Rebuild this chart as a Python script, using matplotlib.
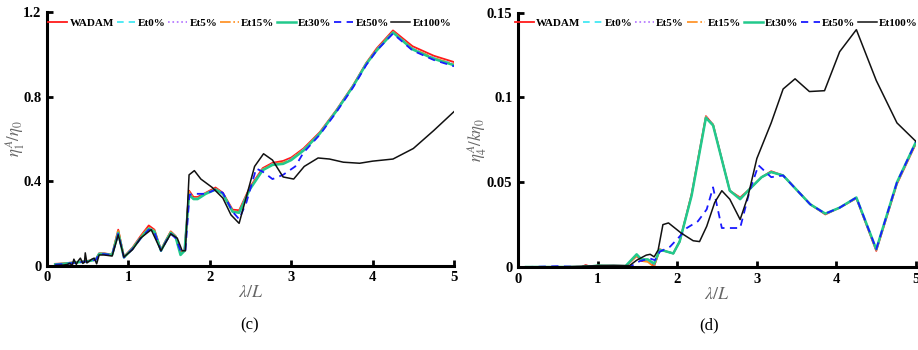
import numpy as np
import matplotlib
matplotlib.use('Agg')
from matplotlib import pyplot as plt

plt.rcParams['font.family'] = ['Liberation Serif', 'DejaVu Serif']
plt.rcParams['mathtext.fontset'] = 'stix'

series_names = ['WADAM', 'Et0%', 'Et5%', 'Et15%', 'Et30%', 'Et50%', 'Et100%']

# ---- panel (c): eta_1^A / eta_0 ----
lam_c = [0.1, 0.2, 0.3, 0.4, 0.5, 0.6, 0.64, 0.7, 0.8, 0.875, 0.945, 1.05, 1.15, 1.25, 1.32,
         1.4, 1.46, 1.52, 1.58, 1.64, 1.69, 1.745, 1.8, 1.85, 1.95, 2.07, 2.16, 2.28, 2.36, 2.49,
         2.65, 2.77, 2.9, 3.0, 3.15, 3.35, 3.55, 3.76, 3.92, 4.05, 4.25, 4.49, 4.75, 5.0]
wadam_c = [0.008, 0.010, 0.014, 0.018, 0.022, 0.030, 0.058, 0.058, 0.052, 0.17, 0.042, 0.085, 0.14, 0.19, 0.17,
           0.075, 0.12, 0.162, 0.14, 0.06, 0.075, 0.355, 0.325, 0.325, 0.345, 0.37, 0.345, 0.265, 0.262, 0.37,
           0.462, 0.487, 0.496, 0.512, 0.555, 0.632, 0.735, 0.855, 0.96, 1.03, 1.115, 1.04, 0.995, 0.965]
et0_c = [0.006, 0.009, 0.013, 0.017, 0.021, 0.029, 0.056, 0.056, 0.051, 0.16, 0.040, 0.082, 0.134, 0.18, 0.164,
         0.072, 0.117, 0.157, 0.137, 0.054, 0.072, 0.345, 0.318, 0.318, 0.342, 0.364, 0.342, 0.258, 0.254, 0.364,
         0.456, 0.481, 0.488, 0.505, 0.55, 0.628, 0.732, 0.852, 0.957, 1.024, 1.108, 1.03, 0.985, 0.955]
et5_c = [0.006, 0.009, 0.013, 0.017, 0.021, 0.029, 0.056, 0.056, 0.051, 0.162, 0.040, 0.082, 0.134, 0.18, 0.164,
         0.072, 0.117, 0.157, 0.137, 0.054, 0.072, 0.345, 0.318, 0.318, 0.342, 0.364, 0.342, 0.258, 0.254, 0.364,
         0.456, 0.481, 0.488, 0.505, 0.55, 0.628, 0.732, 0.852, 0.957, 1.024, 1.108, 1.03, 0.985, 0.955]
et15_c = [0.006, 0.009, 0.013, 0.017, 0.021, 0.029, 0.057, 0.057, 0.051, 0.172, 0.040, 0.082, 0.136, 0.182, 0.165,
          0.072, 0.118, 0.16, 0.138, 0.055, 0.072, 0.35, 0.32, 0.318, 0.342, 0.364, 0.342, 0.258, 0.254, 0.364,
          0.456, 0.481, 0.488, 0.505, 0.55, 0.628, 0.732, 0.852, 0.957, 1.024, 1.108, 1.03, 0.985, 0.955]
et30_c = [0.005, 0.008, 0.012, 0.016, 0.020, 0.028, 0.055, 0.055, 0.050, 0.155, 0.038, 0.080, 0.13, 0.175, 0.16,
          0.070, 0.115, 0.155, 0.135, 0.050, 0.070, 0.335, 0.315, 0.315, 0.34, 0.36, 0.34, 0.255, 0.25, 0.36,
          0.452, 0.477, 0.482, 0.50, 0.545, 0.625, 0.73, 0.85, 0.955, 1.02, 1.105, 1.025, 0.98, 0.95]
lam_c50 = [0.1, 0.2, 0.3, 0.4, 0.5, 0.6, 0.64, 0.7, 0.8, 0.875, 0.945, 1.05, 1.15, 1.25, 1.32,
           1.4, 1.46, 1.52, 1.58, 1.64, 1.7, 1.75, 1.8, 1.95, 2.07, 2.16, 2.28, 2.36, 2.45, 2.57,
           2.65, 2.77, 2.9, 3.05, 3.15, 3.35, 3.55, 3.76, 3.92, 4.05, 4.25, 4.49, 4.75, 5.0]
et50_c = [0.004, 0.007, 0.011, 0.015, 0.020, 0.027, 0.054, 0.054, 0.050, 0.15, 0.038, 0.078, 0.128, 0.17, 0.158,
          0.070, 0.112, 0.15, 0.13, 0.070, 0.070, 0.335, 0.34, 0.34, 0.36, 0.345, 0.255, 0.22, 0.30, 0.46,
          0.445, 0.41, 0.43, 0.47, 0.535, 0.62, 0.725, 0.845, 0.95, 1.02, 1.10, 1.02, 0.975, 0.945]
lam_c100 = [0.1, 0.2, 0.25, 0.28, 0.31, 0.33, 0.36, 0.38, 0.41, 0.44, 0.46, 0.47, 0.49, 0.55, 0.58,
            0.61, 0.64, 0.7, 0.8, 0.875, 0.945, 1.05, 1.15, 1.28, 1.4, 1.52, 1.6, 1.66, 1.7, 1.745,
            1.81, 1.89, 2.03, 2.16, 2.26, 2.36, 2.55, 2.66, 2.77, 2.9, 3.03, 3.16, 3.33, 3.47, 3.64,
            3.84, 4.0, 4.25, 4.5, 4.75, 5.0]
et100_c = [0.0, 0.002, 0.005, 0.01, 0.0, 0.03, 0.005, 0.02, 0.035, 0.01, 0.015, 0.06, 0.012, 0.03, 0.035,
           0.008, 0.05, 0.05, 0.045, 0.145, 0.04, 0.075, 0.13, 0.17, 0.07, 0.15, 0.13, 0.07, 0.07, 0.43,
           0.45, 0.41, 0.37, 0.32, 0.24, 0.20, 0.47, 0.53, 0.50, 0.42, 0.41, 0.47, 0.51, 0.505, 0.49,
           0.485, 0.495, 0.505, 0.555, 0.64, 0.73]

# ---- panel (d): eta_4^A / k eta_0 ----
lam_d = [0.1, 0.5, 0.8, 0.85, 0.9, 1.0, 1.2, 1.35, 1.49, 1.55, 1.63, 1.71, 1.78, 1.84, 1.95, 2.03,
         2.18, 2.36, 2.45, 2.66, 2.79, 2.91, 3.06, 3.18, 3.33, 3.5, 3.67, 3.86, 4.04, 4.25, 4.5, 4.76, 5.0]
wadam_d = [0.0, 0.0, 0.0, 0.0012, 0.0003, 0.0008, 0.0006, 0.0002, 0.0065, 0.0035, 0.0035, 0.0005, 0.0105,
           0.0095, 0.008, 0.015, 0.043, 0.089, 0.084, 0.045, 0.041, 0.046, 0.053, 0.0565, 0.054, 0.0455,
           0.037, 0.031, 0.035, 0.0405, 0.0095, 0.049, 0.073]
et0_d = [0.0, 0.0, 0.0, 0.0008, 0.0003, 0.0008, 0.0006, 0.0003, 0.007, 0.004, 0.004, 0.001, 0.0102,
         0.0095, 0.008, 0.015, 0.0425, 0.0885, 0.084, 0.045, 0.0405, 0.046, 0.053, 0.056, 0.054, 0.0455,
         0.037, 0.0313, 0.035, 0.0408, 0.01, 0.0495, 0.0735]
et5_d = [0.0, 0.0, 0.0, 0.0008, 0.0003, 0.0008, 0.0006, 0.0003, 0.007, 0.004, 0.004, 0.001, 0.0102,
         0.0095, 0.008, 0.015, 0.0425, 0.0885, 0.084, 0.045, 0.0405, 0.046, 0.053, 0.056, 0.054, 0.0455,
         0.037, 0.0313, 0.035, 0.0408, 0.01, 0.0495, 0.0735]
et15_d = [0.0, 0.0, 0.0, 0.0006, 0.0003, 0.0008, 0.0006, 0.0003, 0.0065, 0.0035, 0.003, 0.0, 0.0102,
          0.0095, 0.008, 0.015, 0.0425, 0.0885, 0.084, 0.045, 0.0405, 0.046, 0.053, 0.056, 0.054, 0.0455,
          0.037, 0.0313, 0.035, 0.0408, 0.01, 0.0495, 0.0735]
et30_d = [0.0, 0.0, 0.0, 0.0005, 0.0003, 0.0008, 0.0006, 0.0005, 0.0075, 0.0045, 0.0045, 0.002, 0.010,
          0.0095, 0.008, 0.015, 0.042, 0.088, 0.0835, 0.045, 0.040, 0.046, 0.053, 0.056, 0.054, 0.0455,
          0.037, 0.0315, 0.035, 0.041, 0.0105, 0.050, 0.074]
lam_d50 = [0.1, 0.5, 0.8, 0.85, 0.9, 1.0, 1.2, 1.4, 1.53, 1.66, 1.72, 1.78, 1.91, 2.03, 2.12, 2.26,
           2.37, 2.45, 2.56, 2.79, 2.91, 3.02, 3.18, 3.33, 3.5, 3.67, 3.86, 4.04, 4.25, 4.5, 4.76, 5.0]
et50_d = [0.0, 0.0005, 0.0, 0.0005, 0.0003, 0.0005, 0.0003, 0.0, 0.0035, 0.005, 0.004, 0.009, 0.012,
          0.018, 0.023, 0.027, 0.034, 0.047, 0.023, 0.023, 0.045, 0.060, 0.053, 0.054, 0.0455, 0.037,
          0.0315, 0.035, 0.041, 0.0105, 0.050, 0.074]
lam_d100 = [0.1, 0.5, 1.0, 1.2, 1.4, 1.49, 1.61, 1.66, 1.71, 1.76, 1.82, 1.89, 2.05, 2.2, 2.28, 2.37,
            2.47, 2.56, 2.66, 2.79, 2.89, 3.0, 3.18, 3.33, 3.48, 3.66, 3.85, 4.04, 4.25, 4.5, 4.76, 5.0]
et100_d = [0.0, 0.0, 0.0008, 0.001, 0.0008, 0.004, 0.007, 0.0075, 0.006, 0.010, 0.025, 0.026, 0.020,
           0.0155, 0.015, 0.024, 0.038, 0.045, 0.040, 0.028, 0.042, 0.064, 0.085, 0.105, 0.111, 0.1035,
           0.104, 0.127, 0.140, 0.110, 0.085, 0.074]

styles = [
    dict(color='#ff1a1a', ls='-', lw=1.3),
    dict(color='#33e6f2', ls=(0, (4, 3)), lw=1.2),
    dict(color='#b070ff', ls=':', lw=1.2),
    dict(color='#ff8c1a', ls='-.', lw=1.2),
    dict(color='#22c98c', ls='-', lw=1.8),
    dict(color='#1a1aff', ls=(0, (4, 3)), lw=1.3),
    dict(color='#111111', ls='-', lw=1.1),
]


def draw_panel(ax, curves, ymax, yticks, yticklabels, ylabel, ylabel_x, leg_x):
    for (x, y), name, st in zip(curves, series_names, styles):
        ax.plot(x, y, label=name, **st)
    ax.set_xlim(0, 5)
    ax.set_ylim(0, ymax)
    ax.set_xticks([0, 1, 2, 3, 4, 5])
    ax.set_yticks(yticks)
    ax.set_yticklabels(yticklabels)
    for s in ['top', 'right']:
        ax.spines[s].set_visible(False)
    for s in ['left', 'bottom']:
        ax.spines[s].set_linewidth(2.2)
    ax.tick_params(direction='in', length=4, width=2, labelsize=10.5, pad=4)
    for lab in ax.get_xticklabels() + ax.get_yticklabels():
        lab.set_fontweight('bold')
    ax.set_xlabel(r'$\lambda/L$', fontsize=13, color='#666666', labelpad=0)
    ax.set_ylabel(ylabel, fontsize=12, color='#666666')
    ax.yaxis.set_label_coords(ylabel_x, 0.5)
    leg = ax.legend(loc='upper left', bbox_to_anchor=(leg_x, 0.99), ncol=7, frameon=False,
                    prop=dict(weight='bold', size=8), handlelength=1.7, handletextpad=0.2,
                    columnspacing=0.25, borderpad=0.3, borderaxespad=0.0)
    leg.set_clip_on(False)


fig = plt.figure(figsize=(9.18, 3.5), dpi=100)
ax1 = fig.add_axes([0.0512, 0.2414, 0.4434, 0.7229])
ax2 = fig.add_axes([0.5643, 0.2371, 0.4336, 0.7266])

draw_panel(ax1,
           [(lam_c, wadam_c), (lam_c, et0_c), (lam_c, et5_c), (lam_c, et15_c),
            (lam_c, et30_c), (lam_c50, et50_c), (lam_c100, et100_c)],
           1.2, [0, 0.4, 0.8, 1.2], ['0', '0.4', '0.8', '1.2'],
           r'$\eta_1^A/\eta_0$', -0.05, -0.005)
draw_panel(ax2,
           [(lam_d, wadam_d), (lam_d, et0_d), (lam_d, et5_d), (lam_d, et15_d),
            (lam_d, et30_d), (lam_d50, et50_d), (lam_d100, et100_d)],
           0.15, [0, 0.05, 0.1, 0.15], ['0', '0.05', '0.1', '0.15'],
           r'$\eta_4^A/k\eta_0$', -0.072, -0.016)

fig.text(0.272, 0.069, '(c)', ha='center', va='center', fontsize=12)
fig.text(0.772, 0.069, '(d)', ha='center', va='center', fontsize=12)

fig.savefig('out.png', dpi=100)
